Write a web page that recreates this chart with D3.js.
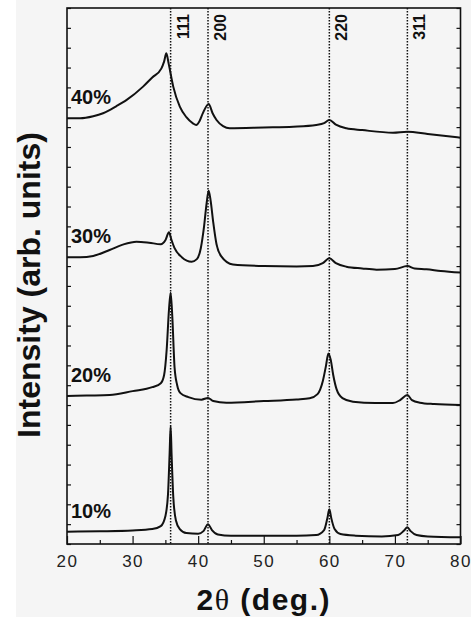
<!DOCTYPE html>
<html>
<head>
<meta charset="utf-8">
<script src="https://cdn.jsdelivr.net/npm/d3@7"></script>
<style>
  body { margin: 0; background: #ffffff; }
  svg { display: block; }
</style>
</head>
<body>
<div id="chart"></div>
<script>
// Series labels (Sn content)
const seriesLabels = ["10%", "20%", "30%", "40%"]

// XRD patterns: [2theta, intensity (arb. units, stacked)]
const s10 = [[20, 0.62], [25, 0.64], [30, 0.68], [33, 0.75], [34.3, 0.9], [35.0, 1.4], [35.4, 2.5],
    [35.65, 4.6], [35.8, 5.94], [35.95, 4.5], [36.2, 2.4], [36.6, 1.2], [37.2, 0.75], [38.2, 0.55],
    [40.0, 0.52], [40.8, 0.65], [41.5, 1.0], [42.1, 0.7], [43.0, 0.48], [45, 0.42], [50, 0.42],
    [55, 0.42], [58, 0.45], [59.2, 0.7], [59.7, 1.3], [60.0, 1.75], [60.3, 1.3], [60.8, 0.75],
    [61.7, 0.5], [64, 0.42], [68, 0.38], [70.5, 0.45], [71.4, 0.68], [71.9, 0.84], [72.4, 0.65],
    [73.3, 0.45], [75, 0.38], [80, 0.34]]
const s20 = [[20, 7.46], [23, 7.48], [26.5, 7.5], [30, 7.7], [33, 7.9], [34.3, 8.1], [34.8, 8.5],
    [35.2, 9.8], [35.55, 11.8], [35.8, 12.65], [36.05, 11.5], [36.4, 8.9], [36.8, 8.0], [37.3, 7.6],
    [38.5, 7.4], [40.5, 7.27], [41.5, 7.36], [42.3, 7.2], [44.3, 7.12], [50, 7.2], [55, 7.28],
    [57, 7.34], [58.2, 7.55], [59.0, 8.2], [59.5, 9.0], [59.85, 9.6], [60.2, 9.3], [60.6, 8.5],
    [61.1, 7.8], [62.0, 7.35], [63.6, 7.17], [67, 7.1], [69.7, 7.1], [70.8, 7.25], [71.9, 7.5],
    [72.6, 7.25], [73.8, 7.12], [76, 7.05], [80, 7.0]]
const s30 = [[20, 14.44], [22, 14.44], [24, 14.51], [26.5, 14.81], [28.5, 15.08], [30.6, 15.23],
    [32.5, 15.18], [34.3, 15.1], [35.0, 15.3], [35.55, 15.7], [35.9, 15.35], [36.4, 14.9],
    [37.5, 14.45], [39.0, 14.22], [39.8, 14.35], [40.4, 14.9], [40.9, 16.0], [41.3, 17.2],
    [41.6, 17.8], [41.9, 17.3], [42.3, 16.2], [42.8, 15.1], [43.5, 14.5], [45.3, 14.08], [50, 14.0],
    [55, 13.98], [57.5, 14.0], [59.0, 14.15], [60.0, 14.39], [61.0, 14.15], [62.6, 13.97],
    [65, 13.88], [67.2, 13.82], [70, 13.85], [71.9, 14.0], [73, 13.88], [74.8, 13.84],
    [77, 13.75], [80, 13.67]]
const s40 = [[20, 21.45], [22, 21.45], [24, 21.55], [25.5, 21.7], [27.5, 22.05], [29.1, 22.37],
    [31.6, 23.04], [33, 23.5], [34.4, 23.96], [34.8, 24.3], [35.15, 24.72], [35.5, 24.2],
    [36.2, 23.04], [37.2, 22.03], [38.2, 21.5], [39.2, 21.19], [39.7, 21.11], [40.2, 21.3],
    [40.7, 21.69], [41.6, 22.17], [42.2, 21.7], [42.8, 21.36], [43.8, 21.05], [44.8, 20.94],
    [50, 20.98], [54.5, 21.02], [58.0, 21.11], [59.2, 21.2], [60.0, 21.36], [61.0, 21.12],
    [62.6, 20.94], [65, 20.85], [69.7, 20.72], [71.9, 20.77], [75, 20.65], [80, 20.47]]

// Reflection positions and indices
const peakPos = [35.8, 41.5, 60.0, 71.9]
const peakHkl = ["111", "200", "220", "311"]

// x tick labels
const xMajor = [20, 30, 40, 50, 60, 70, 80]
const xMinor = [25, 35, 45, 55, 65, 75]

const series = [s10, s20, s30, s40]

// Set up svg
const w = 473
const h = 617
const margin = {left: 67, right: 12, top: 8, bottom: 73}

const svg = d3.select("#chart").append("svg")
    .attr("width", w)
    .attr("height", h)

// grey paper background
svg.append("rect")
    .attr("x", 16).attr("y", 0)
    .attr("width", 455).attr("height", h)
    .attr("fill", "#f5f5f5")

const x = d3.scaleLinear().domain([20, 80]).range([margin.left, w - margin.right - 0.5])
const y = d3.scaleLinear().domain([0, 27]).range([h - margin.bottom, margin.top])

// dotted reference lines
svg.append("g").selectAll("line")
    .data(peakPos)
    .join("line")
    .attr("x1", d => x(d)).attr("x2", d => x(d))
    .attr("y1", y(27)).attr("y2", y(0))
    .attr("stroke", "#111")
    .attr("stroke-width", 1.5)
    .attr("stroke-dasharray", "1.6,1.4")

// hkl labels
svg.append("g").selectAll("text")
    .data(peakHkl)
    .join("text")
    .attr("transform", (d, i) => "translate(" + (x(peakPos[i]) + 18) + "," + (y(27) + 6) + ") rotate(-90)")
    .attr("text-anchor", "end")
    .style("font-family", "Liberation Sans, Arial, sans-serif")
    .style("font-weight", "bold")
    .style("font-size", "16px")
    .style("fill", "#111")
    .text(d => d)

// patterns
const line = d3.line()
    .x(d => x(d[0]))
    .y(d => y(d[1]))
    .curve(d3.curveMonotoneX)

svg.append("g").selectAll("path")
    .data(series)
    .join("path")
    .attr("d", line)
    .attr("fill", "none")
    .attr("stroke", "#111")
    .attr("stroke-width", 2)
    .attr("stroke-linejoin", "round")

// series labels
svg.append("g").selectAll("text")
    .data(seriesLabels)
    .join("text")
    .attr("x", x(20) + 4)
    .attr("y", (d, i) => y(series[i][0][1]) - 14)
    .style("font-family", "Liberation Sans, Arial, sans-serif")
    .style("font-weight", "bold")
    .style("font-size", "20px")
    .style("fill", "#111")
    .text(d => d)

// axes: frame + inward ticks
const axisStyle = g => {
    g.select(".domain").remove()
    g.selectAll("line").attr("stroke", "#111").attr("stroke-width", 1.2)
}

svg.append("g")
    .attr("transform", "translate(0," + y(0) + ")")
    .call(d3.axisBottom(x).tickValues(xMajor).tickSize(-8).tickPadding(11))
    .call(axisStyle)
    .call(g => g.selectAll("text")
        .style("font-family", "Liberation Sans, Arial, sans-serif")
        .style("font-size", "17px")
        .style("letter-spacing", "1.5px")
        .style("fill", "#222"))

svg.append("g")
    .attr("transform", "translate(0," + y(0) + ")")
    .call(d3.axisBottom(x).tickValues(xMinor).tickSize(-4).tickFormat(""))
    .call(axisStyle)

svg.append("g")
    .attr("transform", "translate(" + x(20) + ",0)")
    .call(d3.axisLeft(y).ticks(27).tickSize(-4).tickFormat(""))
    .call(axisStyle)

svg.append("g")
    .attr("transform", "translate(" + x(80) + ",0)")
    .call(d3.axisRight(y).ticks(27).tickSize(-4).tickFormat(""))
    .call(axisStyle)

svg.append("rect")
    .attr("x", x(20)).attr("y", y(27))
    .attr("width", x(80) - x(20)).attr("height", y(0) - y(27))
    .attr("fill", "none")
    .attr("stroke", "#111")
    .attr("stroke-width", 1.6)

// axis titles
const xTitle = svg.append("text")
    .attr("x", (x(20) + x(80)) / 2)
    .attr("y", 610)
    .attr("text-anchor", "middle")
    .style("font-family", "Liberation Sans, Arial, sans-serif")
    .style("font-weight", "bold")
    .style("font-size", "30px")
    .style("letter-spacing", "1.5px")
    .style("fill", "#111")
xTitle.append("tspan").text("2")
xTitle.append("tspan")
    .style("font-family", "Liberation Serif, Times New Roman, serif")
    .style("font-weight", "normal")
    .text("\u03b8")
xTitle.append("tspan").text(" (deg.)")

svg.append("text")
    .attr("transform", "translate(40," + 285 + ") rotate(-90)")
    .attr("text-anchor", "middle")
    .style("font-family", "Liberation Sans, Arial, sans-serif")
    .style("font-weight", "bold")
    .style("font-size", "32px")
    .style("fill", "#111")
    .text("Intensity (arb. units)")
</script>
</body>
</html>
